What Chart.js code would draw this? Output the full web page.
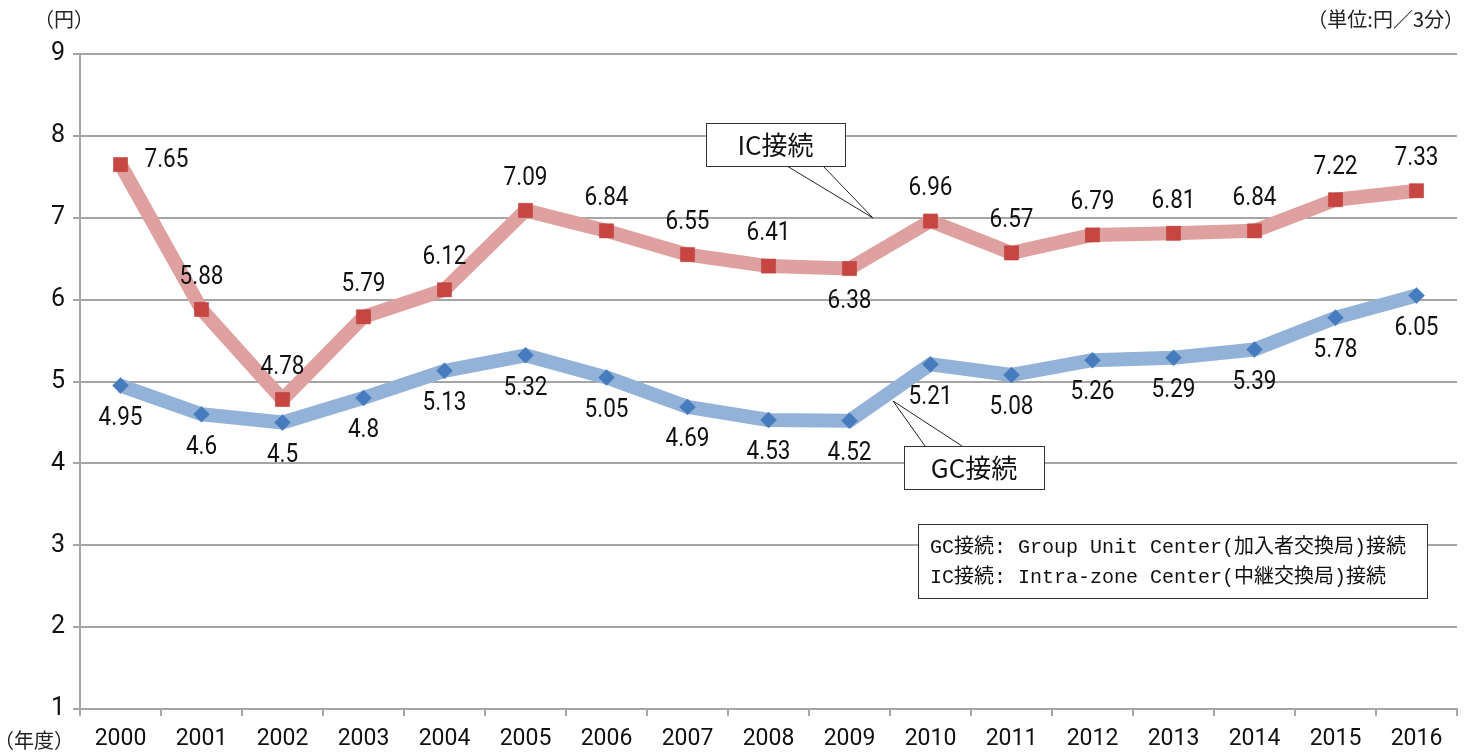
<!DOCTYPE html>
<html>
<head>
<meta charset="utf-8">
<script src="https://cdn.jsdelivr.net/npm/chart.js@4/dist/chart.umd.min.js"></script>
<style>
  html, body { margin: 0; padding: 0; background: #fff; }
  #wrap { width: 1470px; height: 753px; }
</style>
</head>
<body>
<div id="wrap"><canvas id="rate-chart" width="1470" height="753"></canvas></div>
<script>
const years = ["2000", "2001", "2002", "2003", "2004", "2005", "2006", "2007", "2008",
    "2009", "2010", "2011", "2012", "2013", "2014", "2015", "2016"]
const icValues = [7.65, 5.88, 4.78, 5.79, 6.12, 7.09, 6.84, 6.55, 6.41, 6.38, 6.96, 6.57, 6.79, 6.81, 6.84, 7.22, 7.33]
const gcValues = [4.95, 4.6, 4.5, 4.8, 5.13, 5.32, 5.05, 4.69, 4.53, 4.52, 5.21, 5.08, 5.26, 5.29, 5.39, 5.78, 6.05]
const yTicks = [1, 2, 3, 4, 5, 6, 7, 8, 9]

// where each value label sits relative to its point
const icLabelSide = ["right", "above", "above", "above", "above", "above", "above", "above", "above",
    "below", "above", "above", "above", "above", "above", "above", "above"]
const gcLabelSide = years.map(() => "below")

const numFont = "Roboto, 'Liberation Sans', sans-serif"
const jpFont = "'Noto Sans CJK JP', sans-serif"
const gridGray = "rgb(165,165,165)"

const valueLabels = {
    id: "valueLabels",
    afterDatasetsDraw(chart) {
        const ctx = chart.ctx
        ctx.save()
        ctx.font = "25px " + numFont
        ctx.fillStyle = "#111"
        ctx.textBaseline = "middle"
        const sides = [icLabelSide, gcLabelSide]
        chart.data.datasets.forEach((ds, i) => {
            const meta = chart.getDatasetMeta(i)
            meta.data.forEach((pt, j) => {
                const side = sides[i][j]
                let x = pt.x, y = pt.y
                ctx.textAlign = "center"
                if (side === "above") y -= 32
                else if (side === "below") y += 33
                else { ctx.textAlign = "left"; x += 24; y -= 4 }
                ctx.save()
                ctx.translate(x, y)
                ctx.scale(0.9, 1)
                ctx.fillText(String(ds.data[j]), 0, 0)
                ctx.restore()
            })
        })
        ctx.restore()
    }
}

function callout(ctx, box, tailA, tailB, tip, text) {
    ctx.beginPath()
    ctx.moveTo(tailA, box[1] + (tip[1] > box[1] ? box[3] : 0))
    ctx.lineTo(tip[0], tip[1])
    ctx.lineTo(tailB, box[1] + (tip[1] > box[1] ? box[3] : 0))
    ctx.strokeStyle = "#222"
    ctx.lineWidth = 1
    ctx.stroke()
    ctx.fillStyle = "#fff"
    ctx.fillRect(box[0], box[1], box[2], box[3])
    ctx.strokeStyle = "#333"
    ctx.strokeRect(box[0] + 0.5, box[1] + 0.5, box[2], box[3])
    ctx.fillStyle = "#111"
    ctx.font = "26px " + jpFont
    ctx.textAlign = "center"
    ctx.textBaseline = "middle"
    ctx.fillText(text, box[0] + box[2] / 2, box[1] + box[3] / 2 + 1)
}

const notes = {
    id: "notes",
    afterDraw(chart) {
        const ctx = chart.ctx
        ctx.save()
        // corner captions
        ctx.fillStyle = "#222"
        ctx.font = "20px " + jpFont
        ctx.textBaseline = "middle"
        ctx.textAlign = "left"
        ctx.fillText("（円）", 34, 19)
        ctx.fillText("（年度）", -6, 740)
        ctx.textAlign = "right"
        ctx.fillText("（単位:円／3分）", 1464, 19)

        // callouts pointing at the lines
        callout(ctx, [706, 123, 139, 43], 787, 823, [873, 218], "IC接続")
        callout(ctx, [904, 446, 140, 43], 925, 962, [893, 401], "GC接続")

        // explanation box
        ctx.fillStyle = "#fff"
        ctx.fillRect(918, 524, 509, 74)
        ctx.strokeStyle = "#333"
        ctx.strokeRect(918.5, 524.5, 509, 74)
        ctx.fillStyle = "#111"
        ctx.font = "20px 'Liberation Mono', 'Noto Sans CJK JP', monospace"
        ctx.textAlign = "left"
        ctx.fillText("GC接続: Group Unit Center(加入者交換局)接続", 930, 548)
        ctx.fillText("IC接続: Intra-zone Center(中継交換局)接続", 930, 578)
        ctx.restore()
    }
}

document.addEventListener('DOMContentLoaded', function () {
    const ctx = document.getElementById('rate-chart').getContext('2d')
    const chart = new Chart(ctx, {
        type: 'line',
        data: {
            labels: years,
            datasets: [{
                label: 'IC接続',
                data: icValues,
                borderColor: 'rgb(223,160,160)',
                borderWidth: 14,
                pointStyle: 'rect',
                pointRadius: 10,
                pointBackgroundColor: 'rgb(200,70,66)',
                pointBorderColor: 'rgba(180,60,56,0.5)',
                pointBorderWidth: 1,
                tension: 0,
                borderJoinStyle: 'round'
            }, {
                label: 'GC接続',
                data: gcValues,
                borderColor: 'rgb(147,178,215)',
                borderWidth: 14,
                pointStyle: 'rectRot',
                pointRadius: 8,
                pointBackgroundColor: 'rgb(70,124,190)',
                pointBorderColor: 'rgba(70,124,190,0.5)',
                pointBorderWidth: 1,
                tension: 0,
                borderJoinStyle: 'round'
            }]
        },
        options: {
            responsive: false,
            animation: false,
            layout: { padding: { top: 54, right: 13, left: 0, bottom: 0 } },
            plugins: {
                legend: { display: false },
                tooltip: { enabled: false }
            },
            scales: {
                x: {
                    offset: true,
                    grid: {
                        offset: true,
                        drawOnChartArea: false,
                        drawTicks: true,
                        tickLength: 7,
                        color: gridGray,
                        lineWidth: 2
                    },
                    border: { color: gridGray, width: 2 },
                    ticks: {
                        color: '#111',
                        padding: 9,
                        maxRotation: 0,
                        font: { family: numFont, size: 23 }
                    },
                    afterFit: scale => { scale.height = 44 }
                },
                y: {
                    min: 1,
                    max: 9,
                    afterBuildTicks: scale => { scale.ticks = yTicks.map(v => ({ value: v })) },
                    grid: {
                        color: gridGray,
                        lineWidth: 2,
                        tickLength: 7
                    },
                    border: { color: gridGray, width: 2 },
                    ticks: {
                        color: '#111',
                        padding: 8,
                        font: { family: numFont, size: 25 }
                    },
                    afterFit: scale => { scale.width = 80 }
                }
            }
        },
        plugins: [valueLabels, notes]
    })
})
</script>
</body>
</html>
